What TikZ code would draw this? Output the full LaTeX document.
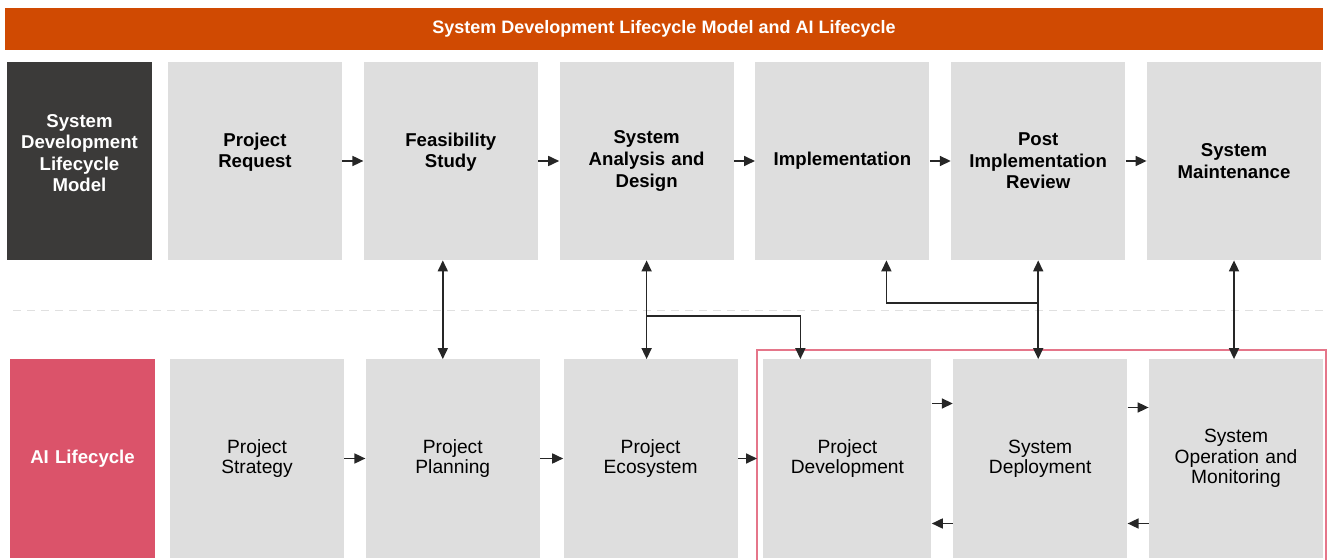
\documentclass[tikz,border=0pt]{standalone}
\usepackage{fontspec}
\setmainfont{Liberation Sans}
\usepackage{xcolor}
\usepackage{tikz}
\definecolor{titleorange}{RGB}{208, 74, 2}
\definecolor{headdark}{RGB}{59, 58, 57}
\definecolor{headrose}{RGB}{219, 83, 106}
\definecolor{boxgrey}{RGB}{222, 222, 222}
\definecolor{framerose}{RGB}{229, 118, 138}
\usetikzlibrary{arrows.meta, positioning, calc}

\begin{document}
\begin{tikzpicture}[
    x=0.5pt, y=-0.5pt,
    node distance=10.5pt,
    phase/.style={rectangle, fill=boxgrey, minimum width=87pt, minimum height=99pt, text width=84pt, align=center, inner sep=0pt},
    sdlc/.style={phase, font=\bfseries\fontsize{9.3}{10.8}\selectfont},
    ailc/.style={phase, font=\fontsize{9.6}{10.2}\selectfont},
    rowhead/.style={rectangle, minimum width=72.5pt, minimum height=99pt, text width=70pt, align=center, inner sep=0pt, text=white, font=\bfseries\fontsize{9.3}{10.8}\selectfont},
    titlebar/.style={rectangle, fill=titleorange, minimum width=659pt, minimum height=21pt, inner sep=0pt, text=white, font=\bfseries\fontsize{9}{10}\selectfont},
    arrow/.style={-{Triangle[length=5.5pt, width=5pt]}, line width=0.85pt, black!85},
    twoway/.style={{Triangle[length=5.5pt, width=5pt]}-{Triangle[length=5.5pt, width=5pt]}, line width=0.85pt, black!85},
    separator/.style={dashed, dash pattern=on 4pt off 3pt, line width=0.5pt, black!12},
    aiframe/.style={draw=framerose, line width=0.6pt}
]
    \useasboundingbox (0,0) rectangle (1327,560);

    % Title
    \node[titlebar] (title) at (664,29) {System Development Lifecycle Model and AI Lifecycle};

    % System development lifecycle (top row)
    \node[rowhead, fill=headdark] (sdlchead) at (79.5,161) {System\\Development\\Lifecycle\\Model\\[-2.8pt]~};
    \node[sdlc] (request) at (255,161) {Project\\Request\\~};
    \node[sdlc, right=of request] (feas) {Feasibility\\Study\\~};
    \node[sdlc, right=of feas] (sad) {System\\Analysis and\\Design};
    \node[sdlc, right=of sad] (impl) {Implementation};
    \node[sdlc, right=of impl] (post) {Post\\Implementation\\Review};
    \node[sdlc, right=of post] (maint) {System\\Maintenance};

    % Separator
    \draw[separator] (13,311) -- (1327,311);

    % AI lifecycle (bottom row)
    \node[rowhead, fill=headrose] (aihead) at (82.5,458.5) {AI Lifecycle};
    \node[ailc] (strategy) at (257,458.5) {Project\\Strategy};
    \node[ailc, right=of strategy] (planning) {Project\\Planning};
    \node[ailc, right=11.5pt of planning] (eco) {Project\\Ecosystem};
    \node[ailc, minimum width=84pt, right=12.5pt of eco] (pd) {Project\\Development};
    \node[ailc, right=of pd] (sd) {System\\Deployment};
    \node[ailc, right=of sd] (som) {System\\Operation and\\Monitoring};

    % Frame round the AI stages
    \coordinate (frame) at (757,350);
    \draw[aiframe] (757,561) -- (frame) -- (1326,350) -- (1326,561);

    % Arrows along the rows
    \draw[arrow] (request) -- (feas);
    \draw[arrow] (feas) -- (sad);
    \draw[arrow] (sad) -- (impl);
    \draw[arrow] (impl) -- (post);
    \draw[arrow] (post) -- (maint);
    \draw[arrow] (strategy) -- (planning);
    \draw[arrow] (planning) -- (eco);
    \draw[arrow] (eco.east) -- (eco.east -| frame);
    \draw[arrow] ([yshift=27.5pt]pd.east) -- ([yshift=27.5pt]sd.west);
    \draw[arrow] ([yshift=25.5pt]sd.east) -- ([yshift=25.5pt]som.west);
    \draw[arrow] ([yshift=-32.5pt]sd.west) -- ([yshift=-32.5pt]pd.east);
    \draw[arrow] ([yshift=-32.5pt]som.west) -- ([yshift=-32.5pt]sd.east);

    % Links between the two lifecycles
    \draw[twoway] ([xshift=-4pt]feas.south) -- ([xshift=-4pt]feas.south |- planning.north);
    \draw[twoway] (sad.south) -- (sad.south |- eco.north);
    \coordinate (sadfork) at ($(sad.south)!0.566!(sad.south |- eco.north)$);
    \draw[arrow] (sadfork) -| ([xshift=-23.5pt]pd.north);
    \draw[twoway] (post.south) -- (post.south |- sd.north);
    \coordinate (postfork) at ($(post.south)!0.434!(post.south |- sd.north)$);
    \draw[arrow] (postfork) -| ([xshift=22pt]impl.south);
    \draw[twoway] (maint.south) -- (maint.south |- som.north);
\end{tikzpicture}
\end{document}
